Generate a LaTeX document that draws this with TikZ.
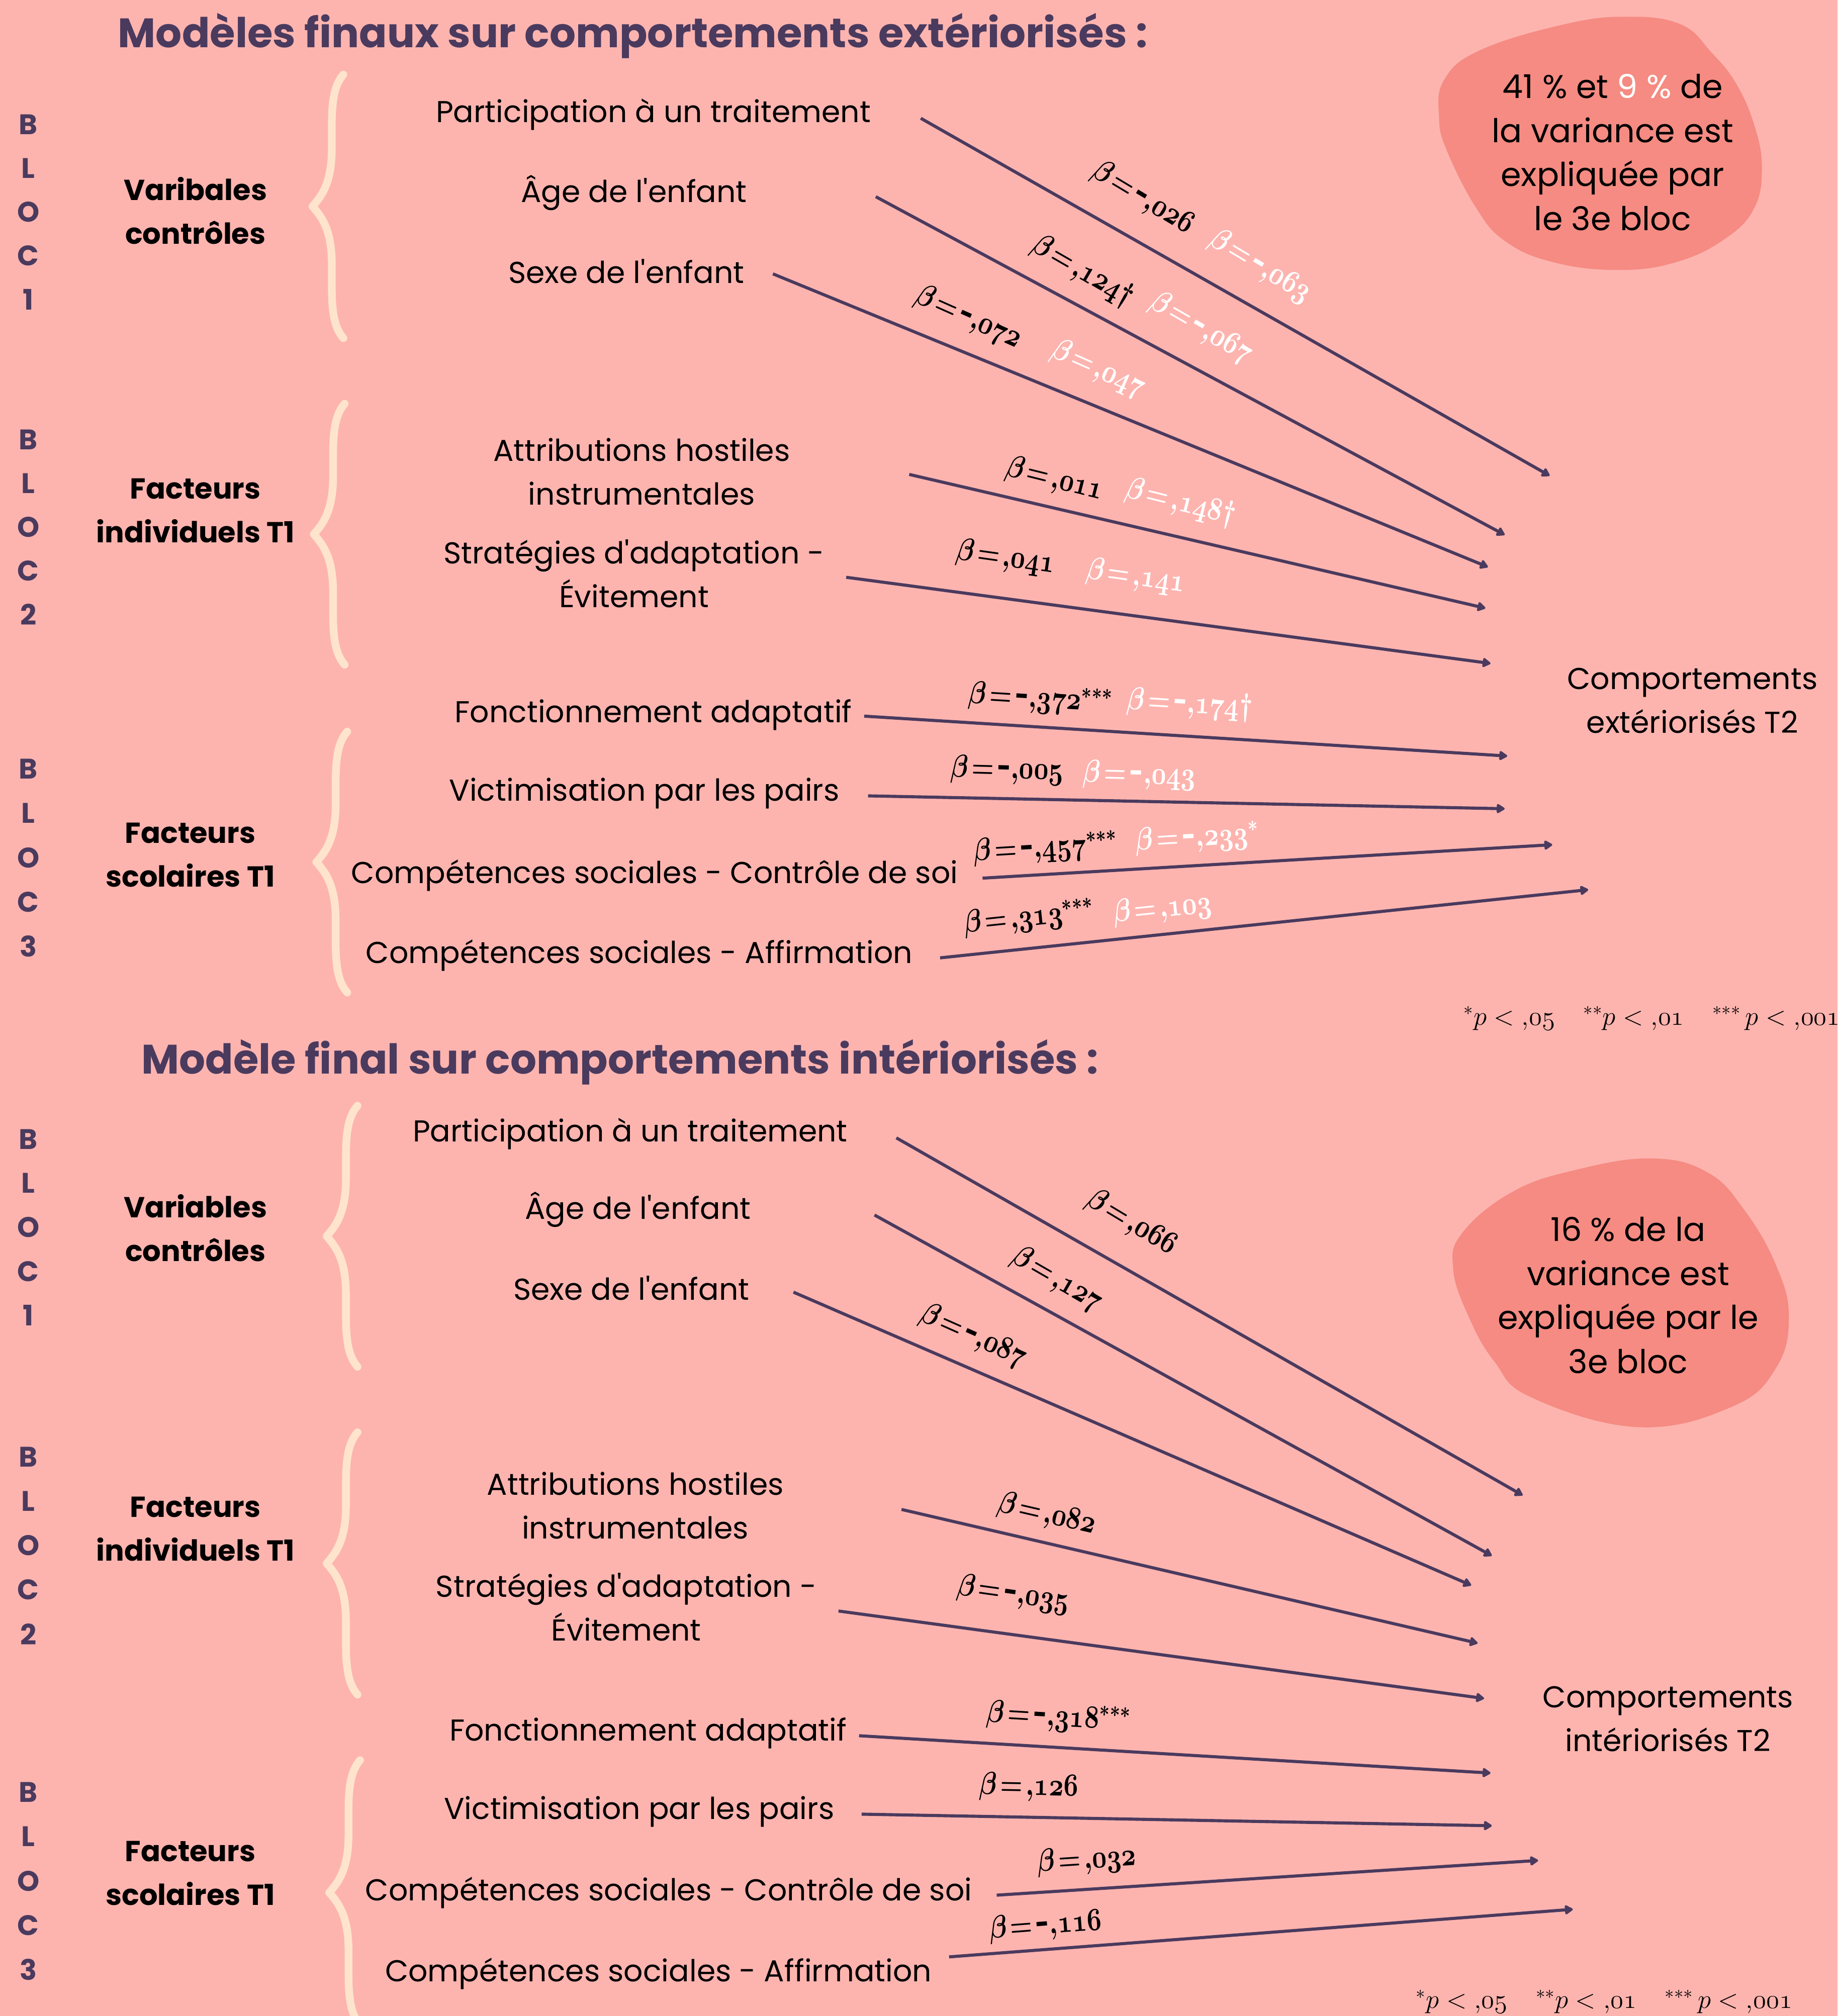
\documentclass[tikz,border=0pt]{standalone}
\usepackage{fontspec}
\setmainfont{Poppins}[Ligatures=TeXOff]
\usetikzlibrary{arrows.meta}
\definecolor{bgc}{HTML}{FDB4AF}
\definecolor{blobc}{HTML}{F58B82}
\definecolor{purp}{HTML}{4A3A5E}
\definecolor{creme}{HTML}{FFE4CD}
\newcommand\mn{\mbox{\bfseries -}}
\newcommand\bb[3]{\scalebox{0.8}[1]{\boldmath$\beta\mkern2mu{=}\mkern2mu#1{,}\mathnormal{#2}#3$}}
\newcommand\mybrace[3]{%
 \draw[bracestyle] ({#1+9},#2) .. controls ({#1+2},{#2+8}) and (#1,{#2+20}) .. (#1,{#2+40})
   -- (#1,{(#2+#3)/2-45}) .. controls (#1,{(#2+#3)/2-18}) and ({#1-8},{(#2+#3)/2-8}) .. ({#1-15},{(#2+#3)/2})
   .. controls ({#1-8},{(#2+#3)/2+8}) and (#1,{(#2+#3)/2+18}) .. (#1,{(#2+#3)/2+45})
   -- (#1,{#3-40}) .. controls (#1,{#3-20}) and ({#1+2},{#3-8}) .. ({#1+9},#3);}
\tikzset{
  title/.style={font=\bfseries\fontsize{32}{36}\selectfont, text=purp, inner sep=0pt},
  vtext/.style={font=\fontsize{23.5}{34}\selectfont, text=black, align=center, inner sep=0pt},
  gtext/.style={font=\bfseries\fontsize{22.5}{34}\selectfont, text=black, align=center, inner sep=0pt},
  bloc/.style={font=\bfseries\fontsize{22}{26}\selectfont, text=purp, inner sep=0pt},
  blobtext/.style={font=\fontsize{25.5}{34.3}\selectfont, text=black, align=center, inner sep=0pt},
  arr/.style={draw=purp, line width=2.4pt, -{Triangle[length=7pt,width=8pt,round]}},
  blab/.style={font=\fontsize{23}{26}\selectfont, text=black, inner sep=0pt},
  wlab/.style={blab, text=white},
  pnote/.style={font=\fontsize{22}{24}\selectfont, text=black, inner sep=0pt},
  bracestyle/.style={draw=creme, line width=6pt, line cap=round, line join=round},
}
\begin{document}
\begin{tikzpicture}[x=1pt,y=-1pt]
\useasboundingbox (0,0) rectangle (1429,1568);
\fill[bgc] (0,0) rectangle (1429,1568);
\clip (0,0) rectangle (1429,1568);

% blobs
\fill[blobc] plot[smooth cycle, tension=0.7] coordinates {(1216,19) (1265,13) (1307,19) (1331,41) (1350,65) (1364,97) (1370,130) (1364,162) (1341,186) (1303,204) (1258,210) (1208,204) (1171,188) (1148,162) (1125,117) (1119,91) (1123,62) (1151,39)};
\fill[blobc] plot[smooth cycle, tension=0.7] coordinates {(1284,901) (1328,912) (1357,942) (1381,984) (1391,1024) (1381,1064) (1347,1094) (1274,1110) (1191,1087) (1162,1059) (1142,1024) (1130,987) (1137,959) (1176,927) (1225,910)};

% ================= UPPER =================
\node[title] (t1) at (492,28) {Modèles finaux sur comportements extériorisés :};

\foreach \ch [count=\i] in {B,L,O,C,1} \node[bloc] (ua\i) at (22,{97+34*(\i-1)}) {\ch};
\foreach \ch [count=\i] in {B,L,O,C,2} \node[bloc] (ub\i) at (22,{342+34*(\i-1)}) {\ch};
\foreach \ch [count=\i] in {B,L,O,C,3} \node[bloc] (uc\i) at (22,{598+34.5*(\i-1)}) {\ch};

\node[gtext] (ug1) at (152,164) {Varibales\\contrôles};
\node[gtext] (ug2) at (152,397) {Facteurs\\individuels T1};
\node[gtext] (ug3) at (148,665) {Facteurs\\scolaires T1};

\mybrace{258}{58}{263}
\mybrace{259}{314}{517}
\mybrace{261}{569}{772}

\node[vtext] (uv1) at (508,89) {Participation à un traitement};
\node[vtext] (uv2) at (493,150) {Âge de l'enfant};
\node[vtext] (uv3) at (487,211) {Sexe de l'enfant};
\node[vtext] (uv4) at (499,367) {Attributions hostiles\\instrumentales};
\node[vtext] (uv5) at (493,446) {Stratégies d'adaptation -\\Évitement};
\node[vtext] (uv6) at (508,556) {Fonctionnement adaptatif};
\node[vtext] (uv7) at (501,617) {Victimisation par les pairs};
\node[vtext] (uv8) at (509,681) {Compétences sociales - Contrôle de soi};
\node[vtext] (uv9) at (497,743) {Compétences sociales - Affirmation};

\node[vtext] (ut) at (1316,545) {Comportements\\extériorisés T2};
\node[blobtext] (ubt) at (1254,118.5) {41 \% et {\color{white}9 \%} de\\la variance est\\expliquée par\\le 3e bloc};

\coordinate (u1s) at (716,92);  \coordinate (u1e) at (1205,370);
\coordinate (u2s) at (681,153); \coordinate (u2e) at (1170,416);
\coordinate (u3s) at (601,213); \coordinate (u3e) at (1157,441);
\coordinate (u4s) at (707,369); \coordinate (u4e) at (1155,473);
\coordinate (u5s) at (658,449); \coordinate (u5e) at (1159,516);
\coordinate (u6s) at (672,557); \coordinate (u6e) at (1172,588);
\coordinate (u7s) at (675,619); \coordinate (u7e) at (1170,629);
\coordinate (u8s) at (764,683); \coordinate (u8e) at (1207,657);
\coordinate (u9s) at (731,745); \coordinate (u9e) at (1235,692);
\foreach \k in {1,...,9} \draw[arr] (u\k s) -- (u\k e);

\node[blab,rotate=-31] (u1b) at (889,154) {\bb{\mn}{026}{}};
\node[wlab,rotate=-31] (u1w) at (980,207) {\bb{\mn}{063}{}};
\node[blab,rotate=-30] (u2b) at (842,211) {\bb{}{124}{\dagger}};
\node[wlab,rotate=-30] (u2w) at (934,255) {\bb{\mn}{067}{}};
\node[blab,rotate=-24] (u3b) at (753,247) {\bb{\mn}{072}{}};
\node[wlab,rotate=-24] (u3w) at (854,287) {\bb{}{047}{}};
\node[blab,rotate=-14] (u4b) at (820,373) {\bb{}{011}{}};
\node[wlab,rotate=-14] (u4w) at (918,391) {\bb{}{148}{\dagger}};
\node[blab,rotate=-8] (u5b) at (782,434) {\bb{}{041}{}};
\node[wlab,rotate=-8] (u5w) at (883,449) {\bb{}{141}{}};
\node[blab,rotate=-3.5] (u6b) at (809,544) {\bb{\mn}{372}{^{***}}};
\node[wlab,rotate=-3.5] (u6w) at (925,548) {\bb{\mn}{174}{\dagger}};
\node[blab,rotate=-1.5] (u7b) at (783,599) {\bb{\mn}{005}{}};
\node[wlab,rotate=-1.5] (u7w) at (886,603) {\bb{\mn}{043}{}};
\node[blab,rotate=3.4] (u8b) at (813,660) {\bb{\mn}{457}{^{***}}};
\node[wlab,rotate=3.4] (u8w) at (931,652) {\bb{\mn}{233}{^{*}}};
\node[blab,rotate=6] (u9b) at (800,714) {\bb{}{313}{^{***}}};
\node[wlab,rotate=6] (u9w) at (904,707) {\bb{}{103}{}};

\node[pnote,anchor=east] (upn) at (1431,792) {$^{*}p<{,}\mathnormal{05}$\quad$^{**}p<{,}\mathnormal{01}$\quad$^{***}\,p<{,}\mathnormal{001}$};

% ================= LOWER =================
\node[title] (t2) at (482,826) {Modèle final sur comportements intériorisés :};

\foreach \ch [count=\i] in {B,L,O,C,1} \node[bloc] (la\i) at (22,{886+34.3*(\i-1)}) {\ch};
\foreach \ch [count=\i] in {B,L,O,C,2} \node[bloc] (lb\i) at (22,{1133+34.5*(\i-1)}) {\ch};
\foreach \ch [count=\i] in {B,L,O,C,3} \node[bloc] (lc\i) at (22,{1394+34.5*(\i-1)}) {\ch};

\node[gtext] (lg1) at (152,955) {Variables\\contrôles};
\node[gtext] (lg2) at (152,1189) {Facteurs\\individuels T1};
\node[gtext] (lg3) at (148,1457) {Facteurs\\scolaires T1};

\mybrace{269}{860}{1063}
\mybrace{269}{1114}{1318}
\mybrace{271}{1369}{1575}

\node[vtext] (lv1) at (490,882) {Participation à un traitement};
\node[vtext] (lv2) at (496,941) {Âge de l'enfant};
\node[vtext] (lv3) at (491,1002) {Sexe de l'enfant};
\node[vtext] (lv4) at (494,1171) {Attributions hostiles\\instrumentales};
\node[vtext] (lv5) at (487,1250) {Stratégies d'adaptation -\\Évitement};
\node[vtext] (lv6) at (504,1348) {Fonctionnement adaptatif};
\node[vtext] (lv7) at (497,1409) {Victimisation par les pairs};
\node[vtext] (lv8) at (520,1472) {Compétences sociales - Contrôle de soi};
\node[vtext] (lv9) at (512,1535) {Compétences sociales - Affirmation};

\node[vtext] (lt) at (1297,1337) {Comportements\\intériorisés T2};
\node[blobtext] (lbt) at (1266,1007.5) {16 \% de la\\variance est\\expliquée par le\\3e bloc};

\coordinate (l1s) at (697,885);  \coordinate (l1e) at (1184,1163);
\coordinate (l2s) at (680,945);  \coordinate (l2e) at (1160,1210);
\coordinate (l3s) at (617,1005); \coordinate (l3e) at (1144,1233);
\coordinate (l4s) at (701,1174); \coordinate (l4e) at (1149,1278);
\coordinate (l5s) at (652,1253); \coordinate (l5e) at (1154,1321);
\coordinate (l6s) at (668,1350); \coordinate (l6e) at (1159,1379);
\coordinate (l7s) at (670,1411); \coordinate (l7e) at (1160,1420);
\coordinate (l8s) at (775,1474); \coordinate (l8e) at (1196,1447);
\coordinate (l9s) at (738,1522); \coordinate (l9e) at (1223,1485);
\foreach \k in {1,...,9} \draw[arr] (l\k s) -- (l\k e);

\node[blab,rotate=-31] (l1b) at (880,951) {\bb{}{066}{}};
\node[blab,rotate=-30] (l2b) at (822,995) {\bb{}{127}{}};
\node[blab,rotate=-24] (l3b) at (757,1039) {\bb{\mn}{087}{}};
\node[blab,rotate=-13] (l4b) at (814,1178) {\bb{}{082}{}};
\node[blab,rotate=-8] (l5b) at (788,1240) {\bb{\mn}{035}{}};
\node[blab,rotate=-3.4] (l6b) at (823,1336) {\bb{\mn}{318}{^{***}}};
\node[blab,rotate=-1] (l7b) at (800,1390) {\bb{}{126}{}};
\node[blab,rotate=3.7] (l8b) at (845,1447) {\bb{}{032}{}};
\node[blab,rotate=4.4] (l9b) at (813,1498) {\bb{\mn}{116}{}};

\node[pnote,anchor=east] (lpn) at (1394,1557) {$^{*}p<{,}\mathnormal{05}$\quad$^{**}p<{,}\mathnormal{01}$\quad$^{***}\,p<{,}\mathnormal{001}$};
\end{tikzpicture}
\end{document}
